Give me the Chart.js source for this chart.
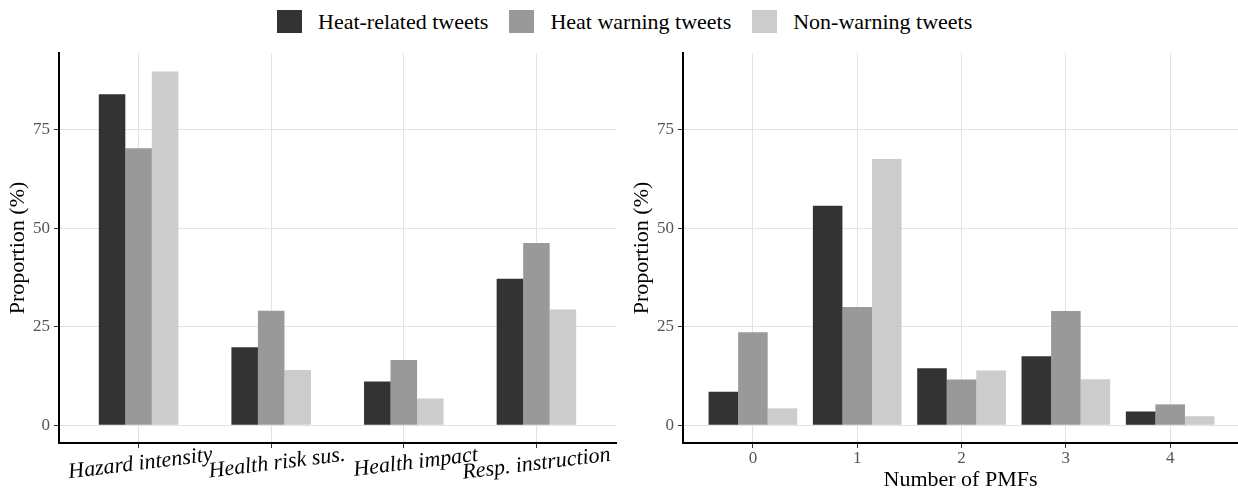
<!DOCTYPE html>
<html>
<head>
<meta charset="utf-8">
<script src="https://cdn.jsdelivr.net/npm/chart.js@4.4.1/dist/chart.umd.min.js"></script>
<style>
  html, body { margin: 0; padding: 0; background: #fff; }
  #wrap { position: relative; width: 1238px; height: 491px; overflow: hidden; }
  #leftChart { position: absolute; left: 0; top: 0; }
  #rightChart { position: absolute; left: 620px; top: 0; }
  #legend {
    position: absolute; left: 277px; top: 10px; height: 23px;
    display: flex; align-items: center;
    font-family: 'Liberation Serif', 'DejaVu Serif', serif; font-size: 22px; color: #000;
  }
  #legend .box { width: 25px; height: 23px; margin-right: 16px; }
  #legend .txt { margin-right: 21px; white-space: nowrap; line-height: 23px; }
</style>
</head>
<body>
<div id="wrap">
  <div id="legend"></div>
  <canvas id="leftChart" width="620" height="491"></canvas>
  <canvas id="rightChart" width="618" height="491"></canvas>
</div>
<script>
// series shared by both panels
const seriesNames = ['Heat-related tweets', 'Heat warning tweets', 'Non-warning tweets'];
const seriesColors = ['#333333', '#999999', '#cccccc'];

// left panel: share of tweets mentioning each PMF
const pmfCategories = ['Hazard intensity', 'Health risk sus.', 'Health impact', 'Resp. instruction'];
const heatRelatedPmf = [84.0, 19.8, 11.1, 37.2];
const heatWarningPmf = [70.3, 29.1, 16.6, 46.3];
const nonWarningPmf = [89.8, 14.0, 6.8, 29.4];

// right panel: share of tweets by number of PMFs
const pmfCounts = [0, 1, 2, 3, 4];
const heatRelatedCount = [8.5, 55.7, 14.5, 17.5, 3.5];
const heatWarningCount = [23.6, 30.0, 11.6, 29.0, 5.3];
const nonWarningCount = [4.3, 67.6, 13.9, 11.7, 2.3];

const yTicks = [0, 25, 50, 75];

Chart.defaults.font.family = "'Liberation Serif', 'DejaVu Serif', serif";
Chart.defaults.animation = false;

// html legend
const legendEl = document.getElementById('legend');
seriesNames.forEach(function(name, i) {
    const box = document.createElement('div');
    box.className = 'box';
    box.style.background = seriesColors[i];
    const txt = document.createElement('div');
    txt.className = 'txt';
    txt.textContent = name;
    legendEl.appendChild(box);
    legendEl.appendChild(txt);
});

function makeDatasets(xs, seriesList, percent) {
    return seriesList.map(function(values, s) {
        return {
            label: seriesNames[s],
            data: values.map(function(v, i) { return { x: xs[i], y: v }; }),
            backgroundColor: seriesColors[s],
            borderWidth: 0,
            categoryPercentage: percent,
            barPercentage: 1
        };
    });
}

const gridStyle = { color: '#e3e3e3', lineWidth: 1, tickLength: 5, tickColor: '#333', tickWidth: 1, offset: false };
const axisBorder = { display: true, color: '#000', width: 2 };

// fixed x-axis height, and no extra side padding for overhanging labels
function fixXAxis(scale) {
    scale.height = 48;
    scale.paddingLeft = 0;
    scale.paddingRight = 0;
}

function yScale(axisWidth, titlePad) {
    return {
        min: -4.5,
        max: 94.5,
        afterBuildTicks: function(scale) {
            scale.ticks = yTicks.map(function(v) { return { value: v }; });
        },
        afterFit: function(scale) { scale.width = axisWidth; },
        grid: gridStyle,
        border: axisBorder,
        ticks: { color: '#555', font: { size: 17 }, padding: 4 },
        title: {
            display: true,
            text: 'Proportion (%)',
            color: '#000',
            font: { size: 22, lineHeight: 1 },
            padding: { top: titlePad, bottom: 0 }
        }
    };
}

const leftXs = pmfCategories.map(function(c, i) { return i + 1; });

new Chart(document.getElementById('leftChart'), {
    type: 'bar',
    data: { datasets: makeDatasets(leftXs, [heatRelatedPmf, heatWarningPmf, nonWarningPmf], 0.6) },
    options: {
        responsive: false,
        layout: { padding: { top: 53, right: 4, left: 0, bottom: 0 } },
        plugins: { legend: { display: false }, tooltip: { enabled: false } },
        scales: {
            x: {
                type: 'linear',
                offset: false,
                min: 0.4,
                max: 4.6,
                afterBuildTicks: function(scale) {
                    scale.ticks = leftXs.map(function(v) { return { value: v }; });
                },
                afterFit: fixXAxis,
                grid: gridStyle,
                border: axisBorder,
                ticks: {
                    color: '#000',
                    font: { size: 22, style: 'italic', lineHeight: 1 },
                    minRotation: 7,
                    maxRotation: 7,
                    labelOffset: 74,
                    padding: -4,
                    autoSkip: false,
                    callback: function(value) { return pmfCategories[value - 1]; }
                }
            },
            y: yScale(59, 7)
        }
    }
});

new Chart(document.getElementById('rightChart'), {
    type: 'bar',
    data: { datasets: makeDatasets(pmfCounts, [heatRelatedCount, heatWarningCount, nonWarningCount], 0.85) },
    options: {
        responsive: false,
        layout: { padding: { top: 53, right: 0, left: 0, bottom: 0 } },
        plugins: { legend: { display: false }, tooltip: { enabled: false } },
        scales: {
            x: {
                type: 'linear',
                offset: false,
                min: -0.67,
                max: 4.65,
                afterBuildTicks: function(scale) {
                    scale.ticks = pmfCounts.map(function(v) { return { value: v }; });
                },
                afterFit: fixXAxis,
                grid: gridStyle,
                border: axisBorder,
                ticks: {
                    color: '#555',
                    font: { size: 17, lineHeight: 1.2 },
                    maxRotation: 0,
                    padding: 0,
                    autoSkip: false,
                    callback: function(value) { return String(value); }
                },
                title: {
                    display: true,
                    text: 'Number of PMFs',
                    color: '#000',
                    font: { size: 22, lineHeight: 1 },
                    padding: { top: 0, bottom: 0 }
                }
            },
            y: yScale(63, 11)
        }
    }
});
</script>
</body>
</html>
